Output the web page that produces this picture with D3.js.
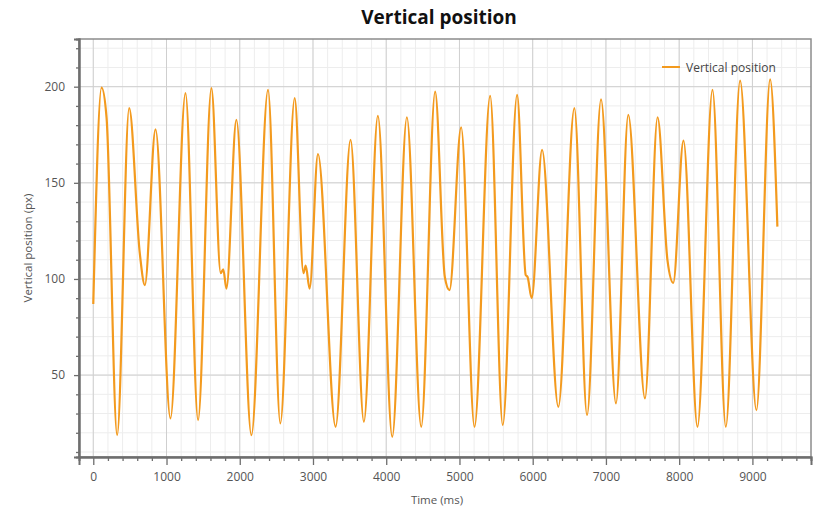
<!DOCTYPE html>
<html>
<head>
<meta charset="utf-8">
<script src="https://cdn.jsdelivr.net/npm/d3@7/dist/d3.min.js"></script>
<style>
  html, body { margin: 0; padding: 0; background: #ffffff; }
  svg { display: block; font-family: "Open Sans", "DejaVu Sans", sans-serif; }
</style>
</head>
<body>
<svg id="chart" width="818" height="512"></svg>
<script>
// Recorded samples: time (ms) and vertical position (px)
const timeMs = [
  0, 113, 181, 326, 490, 636, 704, 850, 1054, 1259, 1431, 1613, 1740, 1775, 1818,
  1954, 2159, 2386, 2554, 2750, 2870, 2900, 2954, 3068, 3309, 3513, 3695, 3886,
  4082, 4282, 4478, 4668, 4800, 4864, 5023, 5205, 5419, 5591, 5787, 5905, 5930,
  5986, 6128, 6350, 6569, 6742, 6933, 7137, 7305, 7533, 7705, 7840, 7919, 8059,
  8250, 8455, 8637, 8832, 9055, 9242, 9341
];
const positionPx = [
  87, 199.5, 184, 18.8, 188.8, 113, 96.8, 177.8, 27.5, 196.6, 26.6, 199.2, 103, 105, 95,
  182.7, 18.8, 198.3, 24.9, 194, 103, 107, 95, 165, 23.1, 172.3, 25.7, 184.8,
  17.9, 184.1, 23.1, 197.4, 101, 94.2, 178.9, 23.1, 195.2, 24, 195.7, 102, 101,
  90, 167.1, 33.5, 188.8, 29.2, 193.4, 35.3, 185.3, 37.9, 184.1, 109.8, 98, 171.9,
  23.1, 198.3, 23.1, 203.1, 31.8, 203.8, 127.2
];
const xTickValues = [0, 1000, 2000, 3000, 4000, 5000, 6000, 7000, 8000, 9000];
const yTickValues = [50, 100, 150, 200];
const seriesName = "Vertical position";

const svg = d3.select("#chart");
const plot = { left: 79, right: 811, top: 39, bottom: 457 };

const x = d3.scaleLinear().domain([-195, 9800]).range([plot.left, plot.right]);
const y = d3.scaleLinear().domain([7.4, 224.8]).range([plot.bottom, plot.top]);

const points = timeMs.map((t, i) => ({ t, v: positionPx[i] }));

// Minor grid
const minorX = d3.range(-200, 9801, 200).filter(t => x(t) > plot.left && x(t) < plot.right);
const minorY = d3.range(10, 225, 10);
const grid = svg.append("g");
grid.selectAll(".mx").data(minorX).join("line")
  .attr("x1", d => x(d)).attr("x2", d => x(d))
  .attr("y1", plot.top).attr("y2", plot.bottom)
  .attr("stroke", "#ededed").attr("stroke-width", 1);
grid.selectAll(".my").data(minorY).join("line")
  .attr("y1", d => y(d)).attr("y2", d => y(d))
  .attr("x1", plot.left).attr("x2", plot.right)
  .attr("stroke", "#ededed").attr("stroke-width", 1);
// Major grid
grid.selectAll(".gx").data(xTickValues).join("line")
  .attr("x1", d => x(d)).attr("x2", d => x(d))
  .attr("y1", plot.top).attr("y2", plot.bottom)
  .attr("stroke", "#cfcfcf").attr("stroke-width", 1);
grid.selectAll(".gy").data(yTickValues).join("line")
  .attr("y1", d => y(d)).attr("y2", d => y(d))
  .attr("x1", plot.left).attr("x2", plot.right)
  .attr("stroke", "#cfcfcf").attr("stroke-width", 1);

// Frame
svg.append("rect")
  .attr("x", plot.left).attr("y", plot.top)
  .attr("width", plot.right - plot.left).attr("height", plot.bottom - plot.top)
  .attr("fill", "none").attr("stroke", "#8c8c8c").attr("stroke-width", 1.5);

// Axes
const xAxis = svg.append("g").attr("transform", `translate(0,${plot.bottom})`)
  .call(d3.axisBottom(x).tickValues(xTickValues).tickSize(8).tickPadding(7).tickFormat(d3.format("d")));
const xMinor = svg.append("g").attr("transform", `translate(0,${plot.bottom})`)
  .call(d3.axisBottom(x).tickValues(minorX.filter(t => t % 1000 !== 0)).tickSize(4).tickFormat(""));
const yAxis = svg.append("g").attr("transform", `translate(${plot.left},0)`)
  .call(d3.axisLeft(y).tickValues(yTickValues).tickSize(5).tickPadding(9).tickFormat(d3.format("d")));
const yMinor = svg.append("g").attr("transform", `translate(${plot.left},0)`)
  .call(d3.axisLeft(y).tickValues(minorY.filter(v => v % 50 !== 0)).tickSize(3).tickFormat(""));

[xAxis, xMinor, yAxis, yMinor].forEach(g => {
  g.select(".domain").attr("stroke", "#6e6e6e").attr("stroke-width", 2);
  g.selectAll(".tick line").attr("stroke", "#6e6e6e").attr("stroke-width", 1.3);
  g.selectAll(".tick text").attr("fill", "#555").attr("font-size", 12)
    .attr("font-family", "'Open Sans', sans-serif");
});

// Series line
const line = d3.line().x(d => x(d.t)).y(d => y(d.v)).curve(d3.curveMonotoneX);
svg.append("path").datum(points)
  .attr("d", line)
  .attr("fill", "none")
  .attr("stroke", "#f39a1e")
  .attr("stroke-width", 2.2)
  .attr("stroke-linejoin", "round");

// Title
svg.append("text").attr("x", 439).attr("y", 24)
  .attr("text-anchor", "middle").attr("font-size", 19).attr("font-weight", "bold")
  .attr("fill", "#111").text(seriesName);

// Axis titles
svg.append("text").attr("x", 437).attr("y", 504)
  .attr("text-anchor", "middle").attr("font-size", 11.5).attr("fill", "#555")
  .text("Time (ms)");
svg.append("text")
  .attr("transform", `translate(32,${(plot.top + plot.bottom) / 2}) rotate(-90)`)
  .attr("text-anchor", "middle").attr("font-size", 11.5).attr("fill", "#555")
  .text("Vertical position (px)");

// Legend
const legend = svg.append("g").attr("transform", "translate(662,67)");
legend.append("line").attr("x1", 0).attr("x2", 18).attr("y1", 0).attr("y2", 0)
  .attr("stroke", "#f39a1e").attr("stroke-width", 2);
legend.append("text").attr("x", 24).attr("y", 4.5)
  .attr("font-size", 12).attr("fill", "#444").text(seriesName);
</script>
</body>
</html>
